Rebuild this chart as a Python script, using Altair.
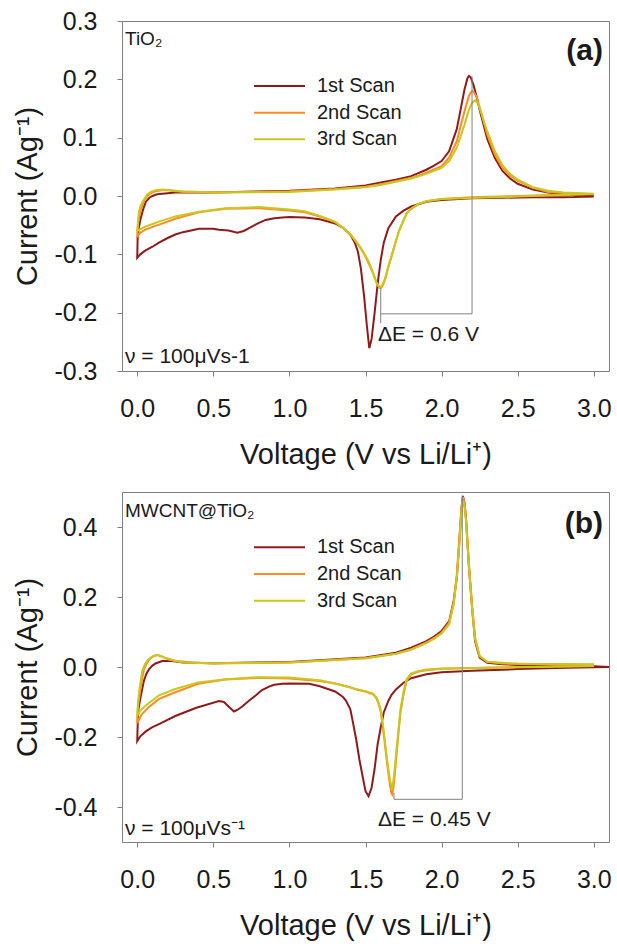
import altair as alt
import pandas as pd

FONT = "Liberation Sans"
SCANS = ["1st Scan", "2nd Scan", "3rd Scan"]
COLORS = ["#8E1B1B", "#FF8C23", "#C8C81E"]

# ---------------- panel (a): TiO2 ----------------
a1_cat_v = [3.0, 2.8, 2.6, 2.4, 2.2, 2.0, 1.9, 1.8, 1.75, 1.7, 1.65, 1.62, 1.6, 1.58, 1.56, 1.54, 1.525, 1.51, 1.49, 1.47, 1.45, 1.43, 1.4, 1.35, 1.3, 1.2, 1.1, 1.0, 0.954, 0.9, 0.844, 0.8, 0.735, 0.7, 0.658, 0.6, 0.537, 0.5, 0.406, 0.3, 0.25, 0.2, 0.143, 0.1, 0.05, 0.02, 0.0]
a1_cat_i = [-0.001, -0.002, -0.002, -0.003, -0.004, -0.007, -0.010, -0.018, -0.025, -0.035, -0.055, -0.080, -0.110, -0.150, -0.200, -0.245, -0.261, -0.225, -0.170, -0.125, -0.095, -0.080, -0.066, -0.054, -0.047, -0.040, -0.037, -0.036, -0.037, -0.038, -0.041, -0.046, -0.055, -0.060, -0.063, -0.059, -0.058, -0.056, -0.056, -0.062, -0.066, -0.072, -0.080, -0.087, -0.094, -0.100, -0.106]
a1_an_v = [0.0, 0.003, 0.01, 0.023, 0.04, 0.056, 0.08, 0.1, 0.13, 0.165, 0.25, 0.5, 1.0, 1.3, 1.5, 1.6, 1.7, 1.8, 1.9, 1.95, 2.0, 2.05, 2.1, 2.13, 2.15, 2.17, 2.18, 2.19, 2.21, 2.23, 2.25, 2.28, 2.3, 2.35, 2.4, 2.45, 2.5, 2.6, 2.7, 2.8, 2.9, 3.0]
a1_an_i = [-0.106, -0.070, -0.055, -0.038, -0.022, -0.010, -0.003, 0.000, 0.003, 0.004, 0.006, 0.006, 0.009, 0.013, 0.018, 0.023, 0.028, 0.034, 0.045, 0.052, 0.060, 0.077, 0.115, 0.155, 0.182, 0.202, 0.206, 0.204, 0.190, 0.170, 0.148, 0.118, 0.098, 0.065, 0.043, 0.030, 0.021, 0.011, 0.006, 0.003, 0.001, 0.000]

a2_cat_v = [3.0, 2.8, 2.5, 2.2, 2.0, 1.9, 1.85, 1.8, 1.77, 1.75, 1.72, 1.7, 1.67, 1.65, 1.63, 1.61, 1.6, 1.59, 1.57, 1.55, 1.52, 1.5, 1.47, 1.45, 1.4, 1.35, 1.3, 1.2, 1.1, 1.0, 0.8, 0.58, 0.406, 0.25, 0.143, 0.1, 0.05, 0.02, 0.0]
a2_cat_i = [0.003, 0.002, 0.000, -0.002, -0.005, -0.009, -0.014, -0.022, -0.030, -0.042, -0.060, -0.077, -0.105, -0.122, -0.142, -0.155, -0.158, -0.157, -0.147, -0.132, -0.115, -0.104, -0.090, -0.082, -0.066, -0.054, -0.045, -0.035, -0.028, -0.025, -0.021, -0.022, -0.028, -0.039, -0.049, -0.053, -0.058, -0.063, -0.069]
a2_an_v = [0.0, 0.005, 0.01, 0.02, 0.035, 0.05, 0.067, 0.09, 0.12, 0.16, 0.2, 0.3, 0.5, 1.0, 1.3, 1.5, 1.6, 1.8, 1.9, 2.0, 2.05, 2.1, 2.13, 2.15, 2.18, 2.2, 2.21, 2.23, 2.25, 2.28, 2.3, 2.35, 2.4, 2.45, 2.5, 2.6, 2.7, 2.8, 3.0]
a2_an_i = [-0.069, -0.050, -0.038, -0.026, -0.015, -0.006, 0.000, 0.005, 0.008, 0.010, 0.010, 0.007, 0.006, 0.008, 0.012, 0.016, 0.020, 0.031, 0.040, 0.051, 0.066, 0.094, 0.125, 0.145, 0.172, 0.180, 0.179, 0.170, 0.152, 0.125, 0.105, 0.071, 0.048, 0.035, 0.026, 0.014, 0.007, 0.005, 0.003]

a3_cat_v = [3.0, 2.5, 2.0, 1.9, 1.85, 1.8, 1.77, 1.75, 1.72, 1.7, 1.67, 1.65, 1.63, 1.61, 1.6, 1.58, 1.56, 1.54, 1.52, 1.5, 1.45, 1.4, 1.3, 1.2, 1.1, 1.0, 0.8, 0.58, 0.406, 0.25, 0.143, 0.1, 0.05, 0.02, 0.0]
a3_cat_i = [0.004, -0.001, -0.005, -0.009, -0.013, -0.022, -0.030, -0.042, -0.060, -0.077, -0.103, -0.120, -0.140, -0.153, -0.156, -0.153, -0.140, -0.125, -0.112, -0.102, -0.082, -0.065, -0.044, -0.034, -0.026, -0.023, -0.019, -0.021, -0.027, -0.035, -0.044, -0.048, -0.053, -0.057, -0.060]
a3_an_v = [0.0, 0.005, 0.01, 0.02, 0.035, 0.05, 0.067, 0.09, 0.12, 0.17, 0.22, 0.3, 0.5, 1.0, 1.3, 1.5, 1.6, 1.8, 1.9, 2.0, 2.05, 2.1, 2.15, 2.18, 2.2, 2.22, 2.24, 2.26, 2.28, 2.3, 2.35, 2.4, 2.45, 2.5, 2.6, 2.7, 2.8, 3.0]
a3_an_i = [-0.060, -0.045, -0.029, -0.018, -0.010, -0.004, 0.003, 0.007, 0.010, 0.011, 0.010, 0.008, 0.006, 0.007, 0.011, 0.015, 0.019, 0.030, 0.038, 0.048, 0.060, 0.083, 0.122, 0.148, 0.160, 0.164, 0.158, 0.143, 0.125, 0.111, 0.077, 0.053, 0.038, 0.028, 0.015, 0.009, 0.006, 0.004]

# ---------------- panel (b): MWCNT@TiO2 ----------------
b1_cat_v = [3.1, 3.0, 2.75, 2.5, 2.2, 2.0, 1.9, 1.8, 1.75, 1.7, 1.67, 1.65, 1.62, 1.6, 1.58, 1.56, 1.54, 1.52, 1.5, 1.48, 1.46, 1.44, 1.42, 1.4, 1.37, 1.35, 1.3, 1.2, 1.13, 1.0, 0.954, 0.9, 0.866, 0.82, 0.78, 0.73, 0.69, 0.66, 0.636, 0.6, 0.57, 0.537, 0.384, 0.25, 0.143, 0.1, 0.056, 0.02, 0.0]
b1_cat_i = [0.000, -0.001, -0.003, -0.006, -0.011, -0.015, -0.021, -0.032, -0.045, -0.064, -0.080, -0.097, -0.130, -0.173, -0.220, -0.290, -0.345, -0.369, -0.355, -0.310, -0.265, -0.210, -0.164, -0.120, -0.095, -0.085, -0.070, -0.055, -0.048, -0.047, -0.048, -0.051, -0.056, -0.066, -0.081, -0.098, -0.113, -0.122, -0.127, -0.113, -0.100, -0.097, -0.117, -0.140, -0.163, -0.172, -0.184, -0.198, -0.212]
b1_an_v = [0.0, 0.004, 0.008, 0.022, 0.044, 0.06, 0.077, 0.1, 0.12, 0.165, 0.23, 0.3, 0.5, 1.0, 1.5, 1.7, 1.8, 1.9, 1.95, 2.0, 2.05, 2.08, 2.1, 2.12, 2.13, 2.14, 2.15, 2.16, 2.18, 2.2, 2.22, 2.25, 2.3, 2.4, 2.5, 2.75, 3.0, 3.1]
b1_an_i = [-0.212, -0.150, -0.120, -0.086, -0.039, -0.020, -0.007, 0.004, 0.010, 0.017, 0.017, 0.013, 0.011, 0.014, 0.027, 0.041, 0.055, 0.074, 0.087, 0.103, 0.131, 0.190, 0.255, 0.380, 0.450, 0.489, 0.470, 0.427, 0.284, 0.170, 0.074, 0.027, 0.012, 0.008, 0.006, 0.004, 0.002, 0.000]

b2_cat_v = [3.0, 2.5, 2.2, 2.0, 1.9, 1.85, 1.8, 1.77, 1.75, 1.73, 1.72, 1.7, 1.69, 1.68, 1.675, 1.67, 1.66, 1.64, 1.62, 1.6, 1.58, 1.57, 1.55, 1.5, 1.45, 1.4, 1.3, 1.2, 1.0, 0.8, 0.58, 0.4, 0.25, 0.143, 0.077, 0.03, 0.0]
b2_cat_i = [0.003, 0.000, -0.003, -0.005, -0.009, -0.013, -0.021, -0.040, -0.078, -0.130, -0.173, -0.269, -0.320, -0.355, -0.364, -0.360, -0.335, -0.269, -0.192, -0.126, -0.098, -0.088, -0.078, -0.070, -0.066, -0.058, -0.047, -0.040, -0.033, -0.031, -0.036, -0.048, -0.072, -0.091, -0.114, -0.135, -0.160]
b2_an_v = [0.0, 0.005, 0.022, 0.044, 0.06, 0.077, 0.1, 0.13, 0.16, 0.186, 0.25, 0.35, 0.5, 1.0, 1.5, 1.7, 1.8, 1.9, 1.95, 2.0, 2.05, 2.08, 2.1, 2.12, 2.13, 2.14, 2.15, 2.16, 2.18, 2.2, 2.22, 2.25, 2.3, 2.4, 2.5, 2.75, 3.0]
b2_an_i = [-0.160, -0.114, -0.058, -0.007, 0.008, 0.021, 0.029, 0.034, 0.030, 0.026, 0.018, 0.013, 0.011, 0.013, 0.025, 0.038, 0.050, 0.070, 0.083, 0.098, 0.127, 0.189, 0.265, 0.389, 0.455, 0.486, 0.470, 0.427, 0.293, 0.179, 0.084, 0.031, 0.015, 0.010, 0.009, 0.008, 0.007]

b3_cat_v = [3.0, 2.5, 2.0, 1.9, 1.85, 1.8, 1.77, 1.75, 1.73, 1.72, 1.7, 1.69, 1.68, 1.675, 1.67, 1.66, 1.64, 1.62, 1.6, 1.58, 1.57, 1.55, 1.5, 1.4, 1.3, 1.2, 1.0, 0.8, 0.58, 0.4, 0.25, 0.143, 0.077, 0.03, 0.0]
b3_cat_i = [0.003, -0.001, -0.004, -0.007, -0.011, -0.018, -0.035, -0.069, -0.120, -0.164, -0.250, -0.300, -0.335, -0.345, -0.340, -0.321, -0.259, -0.183, -0.121, -0.094, -0.086, -0.076, -0.069, -0.059, -0.047, -0.038, -0.030, -0.029, -0.035, -0.044, -0.063, -0.081, -0.103, -0.120, -0.138]
b3_an_v = [0.0, 0.005, 0.016, 0.033, 0.05, 0.07, 0.1, 0.13, 0.16, 0.2, 0.3, 0.5, 1.0, 1.5, 1.7, 1.8, 1.9, 1.95, 2.0, 2.05, 2.08, 2.1, 2.12, 2.13, 2.14, 2.15, 2.16, 2.18, 2.2, 2.22, 2.25, 2.3, 2.5, 3.0]
b3_an_i = [-0.138, -0.100, -0.060, -0.011, 0.008, 0.021, 0.030, 0.035, 0.031, 0.022, 0.013, 0.010, 0.013, 0.025, 0.038, 0.050, 0.068, 0.080, 0.096, 0.122, 0.179, 0.255, 0.370, 0.440, 0.474, 0.460, 0.417, 0.284, 0.170, 0.079, 0.031, 0.015, 0.009, 0.007]

# Delta-E markers (x in V, y in A/g)
a_de_left, a_de_right, a_de_level = 1.6, 2.2, -0.202
a_de_left_top, a_de_left_bot, a_de_right_top = -0.158, -0.218, 0.205
b_de_left, b_de_right, b_de_level = 1.687, 2.136, -0.378
b_de_left_top, b_de_left_bot, b_de_right_top = -0.36, -0.378, 0.49

X_TICKS = [0.0, 0.5, 1.0, 1.5, 2.0, 2.5, 3.0]
A_Y_TICKS = [-0.3, -0.2, -0.1, 0.0, 0.1, 0.2, 0.3]
B_Y_TICKS = [-0.4, -0.2, 0.0, 0.2, 0.4]

W, H = 487, 350
INK = "#1a1a1a"
GRAY = "#808080"


def build_df(branches):
    rows = []
    for scan, (cv, ci, av, ai) in zip(SCANS, branches):
        for k, (v, i) in enumerate(zip(cv + av, ci + ai)):
            rows.append({"scan": scan, "V": v, "I": i, "order": k})
    return pd.DataFrame(rows)


LABEL_EXPR = "replace(format(datum.value, '.1f'), '\u2212', '-')"


def panel(df, ydom, yticks, de, tag, material, nu_text, de_text, legend_rows,
          tag_y, mat_y, nu_y, de_y):
    xs = alt.Scale(domain=[-0.1, 3.1], nice=False, zero=False)
    ys = alt.Scale(domain=ydom, nice=False, zero=False)
    cs = alt.Scale(domain=SCANS, range=COLORS)
    xaxis = alt.Axis(values=X_TICKS, labelExpr=LABEL_EXPR, title="Voltage (V vs Li/Li\u207a)",
                     titlePadding=19)
    yaxis = alt.Axis(values=yticks, labelExpr=LABEL_EXPR, title="Current (Ag\u207b\u00b9)",
                     titlePadding=11)
    lines = alt.Chart(df).mark_line(strokeWidth=2, clip=True).encode(
        x=alt.X("V:Q", scale=xs, axis=xaxis),
        y=alt.Y("I:Q", scale=ys, axis=yaxis),
        color=alt.Color("scan:N", scale=cs, legend=None),
        detail="scan:N",
        order="order:Q",
    )
    left, right, level, ltop, lbot, rtop = de
    seg = pd.DataFrame({
        "x": [left, left, right],
        "x2": [right, left, right],
        "y": [level, ltop, rtop],
        "y2": [level, lbot, level],
    })
    rules = alt.Chart(seg).mark_rule(color=GRAY, strokeWidth=1).encode(
        x="x:Q", x2="x2", y="y:Q", y2="y2"
    )
    # legend rows given as pixel offsets from the plot top -> data units
    span = ydom[1] - ydom[0]
    leg = pd.DataFrame({"scan": SCANS,
                        "I": [ydom[1] - r / H * span for r in legend_rows]})
    leg_lines = alt.Chart(leg).mark_rule(strokeWidth=2).encode(
        x=alt.value(132), x2=alt.value(183),
        y="I:Q",
        color=alt.Color("scan:N", scale=cs, legend=None),
    )
    leg_text = alt.Chart(leg).mark_text(align="left", baseline="middle", font=FONT,
                                        fontSize=20, color=INK).encode(
        x=alt.value(195), y="I:Q", text="scan:N",
    )

    def label(text, x, y, size, align="left", weight="normal"):
        return alt.Chart(pd.DataFrame({"t": [text]})).mark_text(
            align=align, baseline="alphabetic", font=FONT, fontSize=size,
            fontWeight=weight, color=INK
        ).encode(x=alt.value(x), y=alt.value(y), text="t:N")

    texts = [
        label(tag, 481, tag_y, 30, align="right", weight="bold"),
        label(material, 3, mat_y, 19),
        label(nu_text, 3, nu_y, 21),
        label(de_text, 256, de_y, 21),
    ]
    return alt.layer(lines, rules, leg_lines, leg_text, *texts).properties(width=W, height=H)


df_a = build_df([
    (a1_cat_v, a1_cat_i, a1_an_v, a1_an_i),
    (a2_cat_v, a2_cat_i, a2_an_v, a2_an_i),
    (a3_cat_v, a3_cat_i, a3_an_v, a3_an_i),
])
df_b = build_df([
    (b1_cat_v, b1_cat_i, b1_an_v, b1_an_i),
    (b2_cat_v, b2_cat_i, b2_an_v, b2_an_i),
    (b3_cat_v, b3_cat_i, b3_an_v, b3_an_i),
])

top = panel(df_a, [-0.3, 0.3], A_Y_TICKS,
            (a_de_left, a_de_right, a_de_level, a_de_left_top, a_de_left_bot, a_de_right_top),
            "(a)", "TiO\u2082", "\u03bd = 100\u03bcVs-1", "\u0394E = 0.6 V",
            [65, 91.7, 118.3], 39, 24, 342, 320)
bottom = panel(df_b, [-0.5, 0.5], B_Y_TICKS,
               (b_de_left, b_de_right, b_de_level, b_de_left_top, b_de_left_bot, b_de_right_top),
               "(b)", "MWCNT@TiO\u2082", "\u03bd = 100\u03bcVs\u207b\u00b9", "\u0394E = 0.45 V",
               [55.3, 82, 108.7], 41, 25, 343, 334)

chart = alt.vconcat(top, bottom, spacing=21).properties(
    padding={"left": 13, "top": 8, "right": 5, "bottom": 5}
).configure_view(stroke=GRAY, strokeWidth=1).configure_axis(
    labelFont=FONT, labelFontSize=25, labelColor=INK,
    titleFont=FONT, titleFontSize=29, titleFontWeight="normal", titleColor=INK,
    tickColor=GRAY, tickSize=5, tickWidth=1, domain=False, grid=False, labelPadding=20,
)

chart.save("out.html", embed_options={"renderer": "svg", "actions": False})
